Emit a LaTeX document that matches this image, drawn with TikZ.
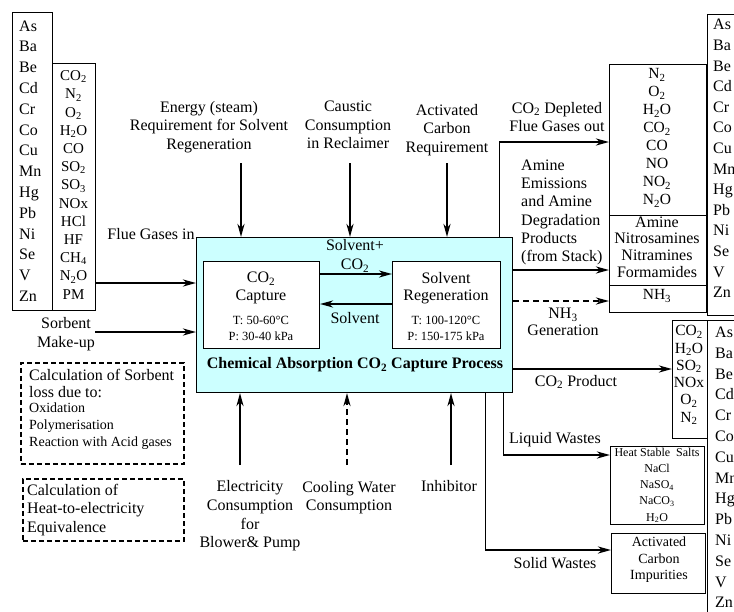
\documentclass[tikz,border=0pt]{standalone}
\usepackage{fontspec}
\setmainfont{Liberation Serif}
\usetikzlibrary{arrows.meta}
\newcommand{\ssb}[1]{\textsubscript{#1}}
\newcommand{\fs}[2]{\fontsize{#1}{#2}\selectfont}
\definecolor{procfill}{HTML}{CCFFFF}
\tikzset{
  box/.style={draw, line width=1pt, fill=white, inner sep=0pt, anchor=north west},
  dbox/.style={draw, line width=1.5pt, dash pattern=on 5pt off 3pt, inner sep=0pt, anchor=north west},
  txt/.style={inner sep=0pt, align=center},
  ltxt/.style={inner sep=0pt, align=left, anchor=west},
  flow/.style={line width=2.4pt, -{Stealth[length=13pt,width=7pt,inset=4pt]}},
  dflow/.style={flow, dash pattern=on 6pt off 4pt},
  feed/.style={line width=1pt},
}
\begin{document}
\begin{tikzpicture}[x=1pt,y=-1pt,font=\fs{16}{18.5}]
\useasboundingbox (0,0) rectangle (734,611);
\clip (0,0) rectangle (734,611);
\fill[white] (0,0) rectangle (734,611);

% ---- incoming flue gas composition ----
\node[box, minimum width=40pt, minimum height=298pt] (metalsin) at (12,12) {};
\node[ltxt, font=\fs{16}{20.8}] (metalsintxt) at (19,161) {As\\Ba\\Be\\Cd\\Cr\\Co\\Cu\\Mn\\Hg\\Pb\\Ni\\Se\\V\\Zn};
\node[box, minimum width=43pt, minimum height=247pt] (gasin) at (52,63) {};
\node[txt, font=\fs{15}{18.2}] (gasintxt) at (73.5,185) {CO\ssb{2}\\N\ssb{2}\\O\ssb{2}\\H\ssb{2}O\\CO\\SO\ssb{2}\\SO\ssb{3}\\NOx\\HCl\\HF\\CH\ssb{4}\\N\ssb{2}O\\PM};

% ---- main process block ----
\node[box, fill=procfill, minimum width=316pt, minimum height=155pt] (main) at (196,237) {};
\node[box, minimum width=116pt, minimum height=87pt] (cap) at (203,261) {};
\node[box, minimum width=108pt, minimum height=87pt] (reg) at (392,261) {};
\node[txt, font=\fs{16}{17.5}] (captxt) at (261,288) {CO\ssb{2}\\Capture};
\node[txt, font=\fs{12.5}{16}] (capcond) at (261,328) {T: 50-60°C\\P: 30-40 kPa};
\node[txt, font=\fs{16}{17.5}] (regtxt) at (446,288) {Solvent\\Regeneration};
\node[txt, font=\fs{12.5}{16}] (regcond) at (446,328) {T: 100-120°C\\P: 150-175 kPa};
\draw[flow, line width=2pt] ([yshift=-13pt]cap.north east) -- ([yshift=-13pt]reg.north west);
\draw[flow, line width=2pt] ([yshift=-43pt]reg.north west) -- ([yshift=-43pt]cap.north east);
\node[txt, font=\fs{16}{19}] (richlbl) at (355,256) {Solvent+\\CO\ssb{2}};
\node[txt] (leanlbl) at (355,318) {Solvent};
\node[txt, font=\fs{16}{18.5}\bfseries] (title) at (355,365) {Chemical Absorption CO\ssb{2} Capture Process};

% ---- inputs from the top ----
\coordinate (steam) at (241,163);
\coordinate (caustic) at (350,163);
\coordinate (carbon) at (447,163);
\draw[flow] (steam) -- (steam |- main.north);
\draw[flow] (caustic) -- (caustic |- main.north);
\draw[flow] (carbon) -- (carbon |- main.north);
\node[txt] (steamlbl) at (209,127) {Energy (steam)\\Requirement for Solvent\\Regeneration};
\node[txt] (causticlbl) at (348,125) {Caustic\\Consumption\\in Reclaimer};
\node[txt] (carbonlbl) at (447,130) {Activated\\Carbon\\Requirement};

% ---- inputs from the left ----
\coordinate (fluein) at (95,283);
\coordinate (sorbin) at (95,332);
\draw[flow] (fluein) -- (fluein -| main.west);
\draw[flow] (sorbin) -- (sorbin -| main.west);
\node[txt] (fluelbl) at (151,234) {Flue Gases in};
\node[txt] (sorblbl) at (66,334) {Sorbent\\Make-up};

% ---- calculation notes ----
\node[dbox, minimum width=163pt, minimum height=101pt] (lossnote) at (20,362) {};
\node[ltxt, font=\fs{16}{17}] (losstxt) at (29,383.5) {Calculation of Sorbent\\loss due to:};
\node[ltxt, font=\fs{14}{17}] (losslist) at (29,426) {Oxidation\\Polymerisation\\Reaction with Acid gases};
\node[dbox, minimum width=161pt, minimum height=62pt] (heatnote) at (22,478) {};
\node[ltxt, font=\fs{16}{18.5}] (heattxt) at (27,510) {Calculation of\\Heat-to-electricity\\Equivalence};

% ---- inputs from the bottom ----
\coordinate (power) at (240,465);
\coordinate (cooling) at (347,465);
\coordinate (inhib) at (451,465);
\draw[flow] (power) -- (power |- main.south);
\draw[dflow] (cooling) -- (cooling |- main.south);
\draw[flow] (inhib) -- (inhib |- main.south);
\node[txt, font=\fs{16}{18.7}] (powerlbl) at (250,516) {Electricity\\Consumption\\for\\Blower\& Pump};
\node[txt, font=\fs{16}{18.7}] (coolinglbl) at (349,497.5) {Cooling Water\\Consumption};
\node[txt] (inhiblbl) at (449,486) {Inhibitor};

% ---- stack emissions ----
\node[box, minimum width=97pt, minimum height=248pt] (stack) at (609,64) {};
\draw[feed] (stack.west |- 0,215) -- (stack.east |- 0,215);
\draw[feed] (stack.west |- 0,285) -- (stack.east |- 0,285);
\node[txt, font=\fs{15.5}{18}] (stackgas) at (657,138) {N\ssb{2}\\O\ssb{2}\\H\ssb{2}O\\CO\ssb{2}\\CO\\NO\\NO\ssb{2}\\N\ssb{2}O};
\node[txt, font=\fs{16}{16.8}] (stackamine) at (657,247) {Amine\\Nitrosamines\\Nitramines\\Formamides};
\node[txt, font=\fs{15.5}{18}] (stacknh) at (657,296) {NH\ssb{3}};
\node[box, minimum width=40pt, minimum height=301pt] (metalsout) at (707,14) {};
\node[ltxt, font=\fs{16}{20.6}] (metalsouttxt) at (713,158.5) {As\\Ba\\Be\\Cd\\Cr\\Co\\Cu\\Mn\\Hg\\Pb\\Ni\\Se\\V\\Zn};

\coordinate (depleted) at (499,142);
\draw[feed] (depleted |- main.north) -- (depleted);
\draw[flow] (depleted) -- (depleted -| stack.west);
\node[txt] (depletedlbl) at (557,117) {CO\ssb{2} Depleted\\Flue Gases out};
\coordinate (amine) at (560,270);
\coordinate (ammonia) at (560,301);
\draw[flow] (amine -| main.east) -- (amine -| stack.west);
\draw[dflow] (ammonia -| main.east) -- (ammonia -| stack.west);
\node[ltxt, font=\fs{16}{18.2}] (aminelbl) at (521,212.5) {Amine\\Emissions\\and Amine\\Degradation\\Products\\(from Stack)};
\node[txt, font=\fs{16}{17}] (ammonialbl) at (563,322) {NH\ssb{3}\\Generation};

% ---- CO2 product stream ----
\node[box, minimum width=35pt, minimum height=118pt] (product) at (672,320) {};
\node[txt, font=\fs{15.5}{17.3}] (producttxt) at (689,375) {CO\ssb{2}\\H\ssb{2}O\\SO\ssb{2}\\NOx\\O\ssb{2}\\N\ssb{2}};
\node[box, minimum width=40pt, minimum height=300pt] (metalsprod) at (707,320) {};
\node[ltxt, font=\fs{16}{20.8}] (metalsprodtxt) at (715,467.5) {As\\Ba\\Be\\Cd\\Cr\\Co\\Cu\\Mn\\Hg\\Pb\\Ni\\Se\\V\\Zn};
\coordinate (co2out) at (560,369);
\draw[flow] (co2out -| main.east) -- (co2out -| product.west);
\node[txt] (co2lbl) at (576,382) {CO\ssb{2} Product};

% ---- liquid and solid wastes ----
\node[box, minimum width=94pt, minimum height=78pt] (liquid) at (610,446) {};
\node[txt, font=\fs{12}{16.2}] (liquidtxt) at (657,485.5) {Heat Stable~~Salts\\NaCl\\NaSO\ssb{4}\\NaCO\ssb{3}\\H\ssb{2}O};
\node[box, minimum width=94pt, minimum height=60pt] (solid) at (611,533) {};
\node[txt, font=\fs{14}{16.5}] (solidtxt) at (659,560) {Activated\\Carbon\\Impurities};
\coordinate (liqturn) at (503,455);
\coordinate (solturn) at (485,550);
\draw[feed] (liqturn |- main.south) -- (liqturn);
\draw[flow] (liqturn) -- (liqturn -| liquid.west);
\draw[feed] (solturn |- main.south) -- (solturn);
\draw[flow] (solturn) -- (solturn -| solid.west);
\node[txt] (liquidlbl) at (555,440) {Liquid Wastes};
\node[txt] (solidlbl) at (555,563) {Solid Wastes};
\end{tikzpicture}
\end{document}
